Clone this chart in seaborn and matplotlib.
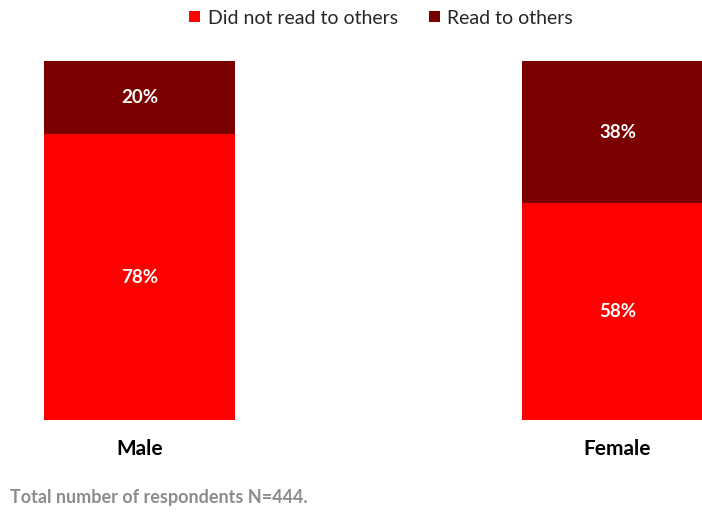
import matplotlib
matplotlib.use("Agg")
import matplotlib.pyplot as plt
import seaborn as sns
import pandas as pd
from matplotlib.patches import Patch

# Survey shares (percent of respondents)
genders = ["Male", "Female"]
did_not_read = [78, 58]
read_to_others = [20, 38]
series_names = ["Did not read to others", "Read to others"]
note = "Total number of respondents N=444."

RED = "#FF0000"
DARK_RED = "#7A0000"

sns.set_theme(style="white")
plt.rcParams["font.family"] = ["Lato", "DejaVu Sans"]

# 100%-stacked: each bar normalised to its own total
df = pd.DataFrame({"gender": genders, "did_not": did_not_read, "read": read_to_others})
df["total"] = df["did_not"] + df["read"]
df["did_not_share"] = df["did_not"] / df["total"]
df["full"] = 1.0

fig = plt.figure(figsize=(7.02, 5.12), dpi=100)
ax = fig.add_axes([0, 1 - 420 / 512, 1, (420 - 61) / 512])

sns.barplot(data=df, x="gender", y="full", color=DARK_RED, width=0.4,
            saturation=1, linewidth=0, ax=ax, order=genders)
sns.barplot(data=df, x="gender", y="did_not_share", color=RED, width=0.4,
            saturation=1, linewidth=0, ax=ax, order=genders)

for i, row in df.iterrows():
    ax.text(i, row["did_not_share"] / 2, f"{row['did_not']}%", ha="center", va="center",
            color="white", fontsize=13.5, fontweight="bold")
    ax.text(i, row["did_not_share"] + (1 - row["did_not_share"]) / 2, f"{row['read']}%",
            ha="center", va="center", color="white", fontsize=13.5, fontweight="bold")

ax.set_xlim(-139.5 / 478, (702 - 139.5) / 478)
ax.set_ylim(0, 1)
ax.set_xlabel("")
ax.set_ylabel("")
ax.set_yticks([])
ax.tick_params(axis="x", length=0, pad=14, labelsize=15)
for lbl in ax.get_xticklabels():
    lbl.set_fontweight("bold")
    lbl.set_color("black")
for s in ax.spines.values():
    s.set_visible(False)

handles = [Patch(facecolor=RED, edgecolor="none"), Patch(facecolor=DARK_RED, edgecolor="none")]
fig.legend(handles, series_names, loc="center", bbox_to_anchor=(0.543, 1 - 18 / 512),
           ncol=2, frameon=False, fontsize=14, handlelength=0.55, handleheight=0.55,
           handletextpad=0.4, columnspacing=1.6)

fig.text(10 / 702, 1 - 497 / 512, note, ha="left", va="center", color="#8C8C8C",
         fontsize=13, fontweight="bold")

fig.savefig("out.png", dpi=100)
